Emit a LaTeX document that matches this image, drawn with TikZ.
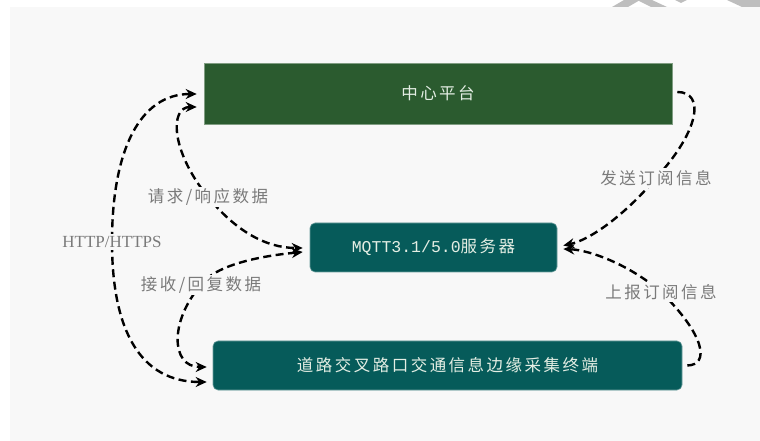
\documentclass[tikz,border=0pt]{standalone}
\usepackage{fontspec}
\newfontfamily\cjk[LetterSpace=15]{Noto Sans CJK SC}
\newfontfamily\monofnt{Liberation Mono}
\newfontfamily\seriffnt{Liberation Serif}
\usetikzlibrary{arrows.meta,calc}
\definecolor{bg}{HTML}{F8F8F8}
\definecolor{dkgreen}{HTML}{2B5B2F}
\definecolor{tealbox}{HTML}{065B5A}
\definecolor{labgray}{HTML}{7A7A7A}
\definecolor{boxtext}{HTML}{E4EEE4}
\definecolor{wm}{HTML}{BEBEBE}
\tikzset{
  topbox/.style={fill=dkgreen, draw=dkgreen!60!white, line width=0.6bp,
    minimum width=468bp, minimum height=61bp, inner sep=0pt, text=boxtext,
    font=\cjk\fontsize{16.5bp}{19bp}\selectfont},
  tbox/.style={fill=tealbox, draw=tealbox!60!white, line width=0.6bp,
    rounded corners=5bp, minimum height=49bp, inner sep=0pt, text=boxtext,
    font=\cjk\fontsize{16.5bp}{19bp}\selectfont},
  conn/.style={line width=2.4bp, dash pattern=on 8bp off 4.5bp, black},
  tipboth/.style={{Stealth[length=11bp,width=10bp]}-{Stealth[length=11bp,width=10bp]}},
  tipend/.style={-{Stealth[length=11bp,width=10bp]}},
  lbl/.style={fill=bg, text=labgray, inner sep=2bp,
    font=\cjk\fontsize{16.5bp}{19bp}\selectfont},
}
\begin{document}
\begin{tikzpicture}[x=1bp,y=-1bp]
\useasboundingbox (0,0) rectangle (760,441);
\fill[white] (0,0) rectangle (760,441);
\fill[bg] (10,7) rectangle (760,441);
% watermark fragments
\fill[wm] (612,7) -- (624,0) -- (640,0) -- (628,7) -- cycle;
\fill[wm] (637,0) -- (652,0) -- (667,7) -- (651,7) -- cycle;
\fill[wm] (675,0) -- (687,0) -- (681,3) -- cycle;
\fill[wm] (727,0) -- (760,0) -- (760,7) -- (742,7) -- cycle;

\node[topbox] (center) at (438,93.5) {中心平台};
\node[tbox, minimum width=247bp] (mqtt) at (433.5,247.5)
  {{\monofnt MQTT3.1/5.0}服务器};
\node[tbox, minimum width=469bp] (edge) at (447.5,365.5)
  {道路交叉路口交通信息边缘采集终端};

% HTTP/HTTPS
\draw[conn,tipboth] ($(center.west)+(-7,0.5)$)
  .. controls (140,94) and (112,150) .. (112,242)
  node[lbl,font=\seriffnt\fontsize{17bp}{19bp}\selectfont] (http) {HTTP/HTTPS}
  .. controls (112,330) and (140,382) .. ($(edge.west)+(-6,16.5)$);
% request / response
\draw[conn,tipboth] ($(center.west)+(-7,13.5)$)
  .. controls (170,107) and (170,150) .. (208,197)
  node[lbl] (req) {请求/响应数据}
  .. controls (235,230) and (265,248) .. ($(mqtt.west)+(-7,0.5)$);
% receive / reply
\draw[conn,tipboth] ($(mqtt.west)+(-7,4.5)$)
  .. controls (260,256) and (215,265) .. (201,285)
  node[lbl] (recv) {接收/回复数据}
  .. controls (170,320) and (170,367) .. ($(edge.west)+(-6,1.5)$);
% send subscription
\draw[conn,tipend] ($(center.east)+(5,-1.5)$)
  .. controls (705,92) and (700,130) .. (656,178)
  node[lbl] (send) {发送订阅信息}
  .. controls (625,215) and (590,240) .. ($(mqtt.east)+(6,-2)$);
% report subscription
\draw[conn,tipend] ($(edge.east)+(5,0)$)
  .. controls (710,365) and (705,335) .. (661,292)
  node[lbl] (report) {上报订阅信息}
  .. controls (630,265) and (590,250) .. ($(mqtt.east)+(6,1.5)$);
\end{tikzpicture}
\end{document}
